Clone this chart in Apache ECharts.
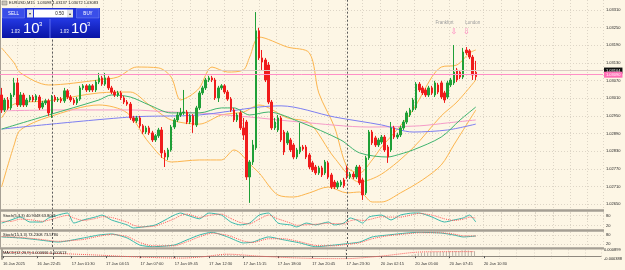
<!DOCTYPE html>
<html>
<head>
<meta charset="utf-8">
<script src="https://cdn.jsdelivr.net/npm/echarts@6/dist/echarts.min.js"></script>
<style>
html,body{margin:0;padding:0;background:#fdf6e5;}
#main{width:625px;height:270px;}
</style>
</head>
<body>
<div id="main"></div>
<script>
var slots = 192;//画面能放下的K线数
var timeTicks = ['16 Jan 2025','16 Jan 22:45','17 Jan 01:30','17 Jan 04:15','17 Jan 07:00','17 Jan 09:45','17 Jan 12:30',
    '17 Jan 15:15','17 Jan 18:00','17 Jan 20:45','17 Jan 23:30','20 Jan 02:15','20 Jan 05:00','20 Jan 07:45','20 Jan 10:30'];
var daySep = [16, 110];//日分隔线

// EURUSD M15 K线 (单位: 点, /100000)
var openP = [103021,102970,103004,102977,103021,103062,102987,103021,102987,103004,103014,103004,103014,102980,102994,103001,
    102960,103014,103004,103007,103001,103035,103014,103004,102994,103007,103045,103052,103038,103052,103038,103065,103079,
    103058,103079,103045,103031,103021,103028,103011,102997,102990,102943,102933,102943,102916,102895,102909,102892,102868,
    102882,102902,102824,102810,102834,102912,102936,102953,102960,102963,102929,102950,102919,102977,103028,103045,103072,
    103079,103072,103011,103045,103052,103031,103007,102970,102936,102960,102909,102929,102742,102793,102841,103239,103147,
    103140,103123,102997,102909,102902,102943,102895,102858,102868,102851,102810,102827,102844,102844,102817,102790,102776,
    102756,102773,102756,102790,102749,102725,102708,102715,102732,102773,102742,102752,102742,102776,102732,102688,102807,
    102895,102875,102851,102861,102878,102844,102834,102909,102878,102885,102909,102929,102953,102970,102977,103058,103045,
    103038,103021,103045,103021,103055,103062,103028,103014,103055,103062,103106,103099,103082,103174,103171,103150,103098];
var closeP = [102970,103004,102977,103021,103062,102987,103021,102987,103004,103014,103004,103018,102977,102994,103001,102960,
    103014,103004,103007,103001,103035,103014,103004,102994,103007,103045,103052,103038,103052,103038,103065,103079,103058,
    103079,103045,103031,103021,103028,103011,102997,102990,102943,102933,102943,102916,102895,102909,102892,102868,102882,
    102902,102824,102810,102834,102912,102936,102953,102960,102963,102929,102950,102919,102977,103028,103045,103072,103079,
    103072,103011,103045,103052,103031,103007,102970,102936,102953,102909,102885,102742,102793,102851,103239,103147,103133,
    103072,102997,102909,102929,102943,102868,102827,102892,102834,102810,102834,102844,102837,102810,102776,102766,102756,
    102773,102749,102793,102742,102708,102708,102722,102725,102712,102742,102752,102742,102776,102722,102681,102807,102895,
    102858,102851,102868,102878,102834,102810,102909,102878,102885,102909,102929,102960,102970,103004,103058,103038,103028,
    103021,103045,103028,103062,103031,103014,103004,103062,103072,103099,103072,103082,103167,103164,103150,103089,103083];
var lowP = [102960,102963,102970,102970,103014,102980,102980,102980,102980,102997,102997,102997,102970,102973,102987,102950,
    102943,102997,102997,102994,102994,103007,102997,102987,102987,103001,103038,103031,103031,103031,103031,103058,103052,
    103052,103038,103024,103014,103014,103004,102990,102984,102936,102926,102926,102909,102888,102888,102885,102861,102861,
    102875,102807,102776,102800,102828,102905,102929,102946,102953,102922,102922,102892,102912,102970,103021,103038,103065,
    103065,103004,102997,103038,103024,103001,102963,102929,102929,102902,102868,102732,102654,102783,102834,103140,103106,
    103065,102990,102902,102902,102895,102861,102817,102851,102827,102803,102803,102820,102831,102803,102769,102759,102749,
    102749,102742,102749,102735,102701,102701,102701,102708,102705,102735,102735,102735,102735,102715,102664,102681,102800,
    102851,102844,102844,102854,102827,102790,102827,102871,102871,102878,102902,102922,102946,102963,102970,103031,103021,
    103014,103014,103021,103014,103024,103007,102994,103007,103048,103055,103065,103075,103075,103157,103143,103072,103072];
var highP = [103045,103011,103014,103028,103079,103079,103031,103028,103011,103021,103021,103024,103021,103001,103007,103007,
    103021,103021,103014,103014,103045,103041,103021,103011,103014,103052,103058,103058,103058,103058,103072,103096,103086,
    103096,103086,103052,103038,103035,103035,103018,103004,102997,102950,102950,102950,102922,102916,102916,102899,102888,
    102909,102912,102834,102841,102919,102943,102963,102977,103038,102970,102956,102956,102984,103035,103052,103079,103086,
    103086,103079,103052,103058,103058,103038,103014,102977,102960,102967,102943,102936,102800,102868,103303,103249,103174,
    103147,103133,103004,102943,102953,102950,102902,102899,102875,102858,102841,102926,102851,102851,102824,102797,102783,
    102780,102780,102800,102797,102756,102732,102729,102732,102739,102780,102759,102759,102783,102783,102739,102814,102902,
    102902,102882,102875,102885,102885,102851,102929,102916,102892,102916,102936,102967,102977,103011,103065,103065,103052,
    103045,103052,103052,103069,103062,103069,103035,103069,103079,103191,103113,103106,103181,103184,103177,103157,103137];

// 指标线 (取样点: 序号 / 点数)
var bbUpIdx = [0,4,6,15,31,37,43,50,54,57,60,63,67,72,77,79,82,91,98,101,106,110,114,118,121,125,131,137,140,145,149,151];
var bbUp = [103181,103130,103096,103055,103072,103082,103116,103113,103082,103004,103018,103045,103116,103099,103106,103150,
    103218,103184,103164,103028,102912,102776,102756,102800,102844,102892,102970,103082,103116,103123,103164,103174];
var bbMidIdx = [0,4,15,31,41,47,54,63,70,77,82,91,98,106,114,121,131,140,145,151];
var bbMid = [102943,102990,103001,103028,103031,102987,102936,102922,102953,102963,102987,102943,102926,102807,102725,102752,
    102841,102950,102997,103072];
var bbLowIdx = [0,4,6,15,31,40,47,54,63,70,74,80,82,88,93,98,104,110,114,118,121,127,134,140,144,148,151];
var bbLow = [102708,102851,102902,102946,102987,102960,102858,102793,102800,102800,102834,102776,102756,102681,102674,102688,
    102708,102688,102691,102657,102657,102688,102732,102783,102851,102919,102970];
var maGreenIdx = [0,15,31,35,41,47,54,63,70,74,79,85,95,108,114,123,125,131,140,146,151];
var maGreen = [102905,102953,103004,103021,103014,102987,102960,102960,102977,102977,102953,102963,102929,102868,102824,102810,
    102814,102834,102878,102936,102980];
var maBlueIdx = [0,41,63,82,89,106,121,131,142,151];
var maBlue = [102905,102946,102953,102980,102984,102946,102919,102895,102902,102922];
var maPinkIdx = [0,19,41,54,63,79,95,117,133,142,151];
var maPink = [102967,102970,102970,102963,102960,102946,102929,102912,102916,102926,102936];

var bidLine = 1.03090;
var askLine = 1.03104;

// 随机指标
var st1Idx = [0,3,6,9,13,15,21,23,26,30,32,35,40,42,45,49,55,57,59,63,66,70,73,76,79,82,85,88,92,94,97,100,104,106,109,111,
    113,115,117,121,124,127,131,133,137,141,144,147,149,151];
var st1Main = [35,53,71,41,41,65,94,35,53,71,82,53,24,6,12,24,82,94,82,60,94,82,41,24,35,82,94,35,24,12,35,24,41,24,35,65,53,
    35,71,82,53,82,94,94,71,41,53,65,82,40.93];
var st1Sig = [45,45,58,55,45,52,80,65,50,62,72,68,40,22,12,18,60,80,88,68,80,88,62,38,30,58,82,60,35,22,25,28,33,32,30,48,55,
    50,55,72,70,70,85,92,82,60,50,58,70,63.8];
var st2Idx = [0,6,12,18,26,31,35,40,44,48,55,59,63,67,72,77,80,85,90,95,100,106,109,114,118,123,129,133,140,144,147,151];
var st2Main = [67,60,47,33,60,80,87,60,13,2,13,47,80,98,67,27,33,67,47,27,2,13,20,33,67,80,93,98,93,80,67,73.23];
var st2Sig = [70,64,52,38,50,72,84,70,30,8,8,35,68,92,78,40,30,55,55,35,10,8,15,28,55,75,88,95,95,86,74,73.58];

// MACD
var macdSigIdx = [0,15,31,44,57,63,72,82,95,109,121,132,140,151];
var macdSig = [0.00052,0.00039,0.00013,-0.00013,-0.00026,-0.00013,0.00026,0.0,-0.00026,-0.00035,0.0,0.00052,0.0006,0.00061];
var macdHistIdx = [68,69,70,71,72,73,74,75,76,77,78,130,131,132,133,134,135,136,137,138,139,140,141,142,143,144,145,146,147,
    148,149,150,151];
var macdHist = [0.0001,0.00015,0.0002,0.0002,0.00025,0.0002,0.0002,0.00015,0.00015,0.0001,0.00005,0.0001,0.0002,0.0003,0.0004,
    0.00045,0.0005,0.0005,0.00055,0.0006,0.0006,0.0006,0.00058,0.0006,0.00065,0.0007,0.0007,0.00068,0.0008,0.0008,0.00078,0.0007,
    0.00067];

var sessions = ['Frankfurt', 'London'];
var sessionTextIdx = [141, 150];
var sessionArrowIdx = [144, 148];

/**
 * 组装数据
 */
var cats = [];
for (var i = 0; i < slots; i++) {
    cats.push(i % 11 == 0 && i / 11 < timeTicks.length ? timeTicks[i / 11] : '');
}
var kdata = [];
for (i = 0; i < openP.length; i++) {
    kdata.push([openP[i] / 1e5, closeP[i] / 1e5, lowP[i] / 1e5, highP[i] / 1e5]);
}
function pairs(idx, val, k) {
    var r = [];
    for (var j = 0; j < idx.length; j++) r.push([idx[j], val[j] / k]);
    return r;
}
function line(data, color, xi, yi, dash, smooth) {
    return {
        type: 'line', data: data, xAxisIndex: xi, yAxisIndex: yi, symbol: 'none', silent: true,
        smooth: smooth, z: 2, lineStyle: {color: color, width: 1, type: dash || 'solid'}
    };
}
function sepLines() {
    var d = [];
    for (var j = 0; j < daySep.length; j++) {
        d.push({xAxis: daySep[j], lineStyle: {color: '#5a5a5a', width: 1, type: [2, 2]}, label: {show: false}});
    }
    return d;
}
var showTick = function (index, value) { return value !== ''; };
var gridC = '#ddd5c6';
var FONT = 'Liberation Sans';

var xAxes = [], grids = [
    {left: 0, right: 22, top: 0, height: 221.7},
    {left: 0, right: 22, top: 212, height: 17},
    {left: 0, right: 22, top: 232, height: 15},
    {left: 0, right: 22, top: 249.5, height: 9.5}
];
for (i = 0; i < 4; i++) {
    xAxes.push({
        type: 'category', gridIndex: i, data: cats, show: i == 3,
        axisLine: {show: true, lineStyle: {color: '#8f897f', width: 1}},
        axisTick: {show: true, interval: showTick, alignWithLabel: true, length: 2, lineStyle: {color: '#555'}},
        axisLabel: {show: true, interval: showTick, align: 'left', fontSize: 4, color: '#333', margin: 2.5, fontFamily: FONT},
        splitLine: {show: false}
    });
    xAxes.push({
        type: 'value', gridIndex: i, min: 0, max: slots, interval: 5.5,
        axisLine: {show: false}, axisTick: {show: false}, axisLabel: {show: false},
        splitLine: {show: true, lineStyle: {color: gridC, width: 1, type: [1, 2]}}
    });
}

var hc = [];
for (i = 0; i < 14; i++) hc.push(i == 0 || i == 13 ? 'rgba(0,0,0,0)' : gridC);
var stochSplit = ['rgba(0,0,0,0)', gridC, 'rgba(0,0,0,0)', 'rgba(0,0,0,0)', gridC, 'rgba(0,0,0,0)'];
var axisLn = {show: true, lineStyle: {color: '#a59f94', width: 2}};
var lab = {fontSize: 4, color: '#222', margin: 3, fontFamily: FONT};

function stochAxis(g) {
    return {
        type: 'value', gridIndex: g, position: 'right', min: 0, max: 100, interval: 20,
        axisLine: axisLn, axisTick: {show: false},
        axisLabel: Object.assign({}, lab, {formatter: function (v) { return (v == 20 || v == 80) ? String(v) : ''; }}),
        splitLine: {show: true, lineStyle: {color: stochSplit, type: [1, 2]}}
    };
}

var priceLabel = {show: true, position: 'end', distance: 1, fontSize: 4, color: '#fff', padding: [1, 2], fontFamily: FONT,
    formatter: function (p) { return Number(p.value).toFixed(5); }};

var mpData = [];
for (i = 0; i < sessions.length; i++) {
    mpData.push({coord: [sessionTextIdx[i], 1.03266], value: sessions[i],
        label: {show: true, position: 'inside', formatter: sessions[i], color: '#9c9c9c', fontSize: 4.5, fontFamily: FONT}});
    mpData.push({coord: [sessionArrowIdx[i], 1.03235], value: '⇩',
        label: {show: true, position: 'inside', formatter: '⇩', color: '#ff77bb', fontSize: 8, fontFamily: 'DejaVu Sans'}});
}

// 价格线挂在粉色均线上
var pinkSeries = line(pairs(maPinkIdx, maPink, 1e5), '#f59bc8', 0, 0, null, 0.3);
pinkSeries.markLine = {
    silent: true, symbol: ['none', 'none'], precision: 5,
    data: [
        {yAxis: askLine, lineStyle: {color: '#dccac4', width: 1, type: 'solid'},
            label: Object.assign({}, priceLabel, {backgroundColor: '#111'})},
        {yAxis: bidLine, lineStyle: {color: '#ff8fc6', width: 1, type: 'solid'},
            label: Object.assign({}, priceLabel, {backgroundColor: '#ff6fb5'})}
    ]
};

var myChart = echarts.init(document.getElementById('main'), null, {renderer: 'canvas'});
var option = {
    animation: false,
    backgroundColor: '#fdf6e5',
    grid: grids,
    xAxis: xAxes,
    yAxis: [
        {
            type: 'value', gridIndex: 0, position: 'right', min: 1.02590, max: 1.03344, interval: 0.0006,
            axisLine: axisLn, axisTick: {show: false},
            axisLabel: Object.assign({}, lab, {formatter: function (v) { return (v > 1.0264 && v < 1.0333) ? v.toFixed(5) : ''; }}),
            splitLine: {show: true, lineStyle: {color: hc, type: [1, 2]}}
        },
        stochAxis(1),
        stochAxis(2),
        {
            type: 'value', gridIndex: 3, position: 'right', min: -0.000388, max: 0.000899, interval: 0.001287,
            axisLine: axisLn, axisTick: {show: false},
            axisLabel: Object.assign({}, lab, {formatter: function (v) { return v.toFixed(6); }}),
            splitLine: {show: false}
        }
    ],
    series: [
        {
            type: 'candlestick', data: kdata, xAxisIndex: 0, yAxisIndex: 0, barWidth: 2, z: 3, silent: true,
            itemStyle: {color: '#1f9f37', color0: '#f01c1c', borderColor: '#1f9f37', borderColor0: '#f01c1c', borderWidth: 1},
            markLine: {silent: true, symbol: ['none', 'none'], data: sepLines()},
            markPoint: {silent: true, symbol: 'circle', symbolSize: 1, itemStyle: {color: 'rgba(0,0,0,0)'}, data: mpData}
        },
        line(pairs(bbUpIdx, bbUp, 1e5), '#fcb54e', 0, 0, null, 0.3),
        line(pairs(bbMidIdx, bbMid, 1e5), '#fcb54e', 0, 0, null, 0.3),
        line(pairs(bbLowIdx, bbLow, 1e5), '#fcb54e', 0, 0, null, 0.3),
        pinkSeries,
        line(pairs(maBlueIdx, maBlue, 1e5), '#7d7ff2', 0, 0, null, 0.3),
        line(pairs(maGreenIdx, maGreen, 1e5), '#3fb46f', 0, 0, null, 0.3),
        Object.assign(line(pairs(st1Idx, st1Main, 1), '#3ab8aa', 2, 1, null, 0.2),
            {markLine: {silent: true, symbol: ['none', 'none'], data: sepLines()}}),
        line(pairs(st1Idx, st1Sig, 1), '#ff5a5a', 2, 1, [1, 1], 0.2),
        Object.assign(line(pairs(st2Idx, st2Main, 1), '#3ab8aa', 4, 2, null, 0.2),
            {markLine: {silent: true, symbol: ['none', 'none'], data: sepLines()}}),
        line(pairs(st2Idx, st2Sig, 1), '#ff5a5a', 4, 2, [1, 1], 0.2),
        {
            type: 'bar', data: pairs(macdHistIdx, macdHist, 1), xAxisIndex: 6, yAxisIndex: 3, barWidth: 1, silent: true,
            itemStyle: {color: '#b9b2a6'}
        },
        Object.assign(line(pairs(macdSigIdx, macdSig, 1), '#ff5a5a', 6, 3, [1, 1], 0.3), {
            markLine: {silent: true, symbol: ['none', 'none'], data: sepLines().concat([
                {yAxis: 0, lineStyle: {opacity: 0}, label: {show: true, position: 'end', distance: 3, formatter: '0.00',
                    fontSize: 4, color: '#222', fontFamily: FONT}}
            ])}
        })
    ],
    graphic: [
        // 分隔条
        {type: 'rect', z: 50, shape: {x: 0, y: 209.3, width: 604, height: 2.4}, style: {fill: '#a59f94'}},
        {type: 'rect', z: 50, shape: {x: 0, y: 229.3, width: 604, height: 2.4}, style: {fill: '#a59f94'}},
        {type: 'rect', z: 50, shape: {x: 0, y: 247.2, width: 604, height: 2.2}, style: {fill: '#a59f94'}},
        // 标题
        {type: 'rect', z: 50, shape: {x: 2, y: 1, width: 5, height: 4}, style: {fill: '#c9c3b8', stroke: '#777', lineWidth: 0.5}},
        {type: 'text', z: 50, x: 9, y: 3.2, style: {text: 'EURUSD,M15  1.03098 1.03137 1.03072 1.03083', font: '4px ' + FONT,
            fill: '#222', textVerticalAlign: 'middle'}},
        {type: 'text', z: 50, x: 3, y: 215.5, style: {text: 'Stoch(5,3,3) 40.9348 63.8021', font: '4px ' + FONT,
            fill: '#222', textVerticalAlign: 'middle'}},
        {type: 'text', z: 50, x: 3, y: 235, style: {text: 'Stoch(15,3,3) 73.2308 73.5780', font: '4px ' + FONT,
            fill: '#222', textVerticalAlign: 'middle'}},
        {type: 'text', z: 50, x: 3, y: 252.5, style: {text: 'MACD(12,26,9) 0.000666 0.000613', font: '4px ' + FONT,
            fill: '#222', textVerticalAlign: 'middle'}},
        // 一键交易面板
        {type: 'rect', z: 60, shape: {x: 2, y: 8, width: 98, height: 11}, style: {fill: '#1f33d8'}},
        {type: 'rect', z: 60, shape: {x: 2, y: 19, width: 98, height: 19},
            style: {fill: new echarts.graphic.LinearGradient(0, 0, 0, 1, [{offset: 0, color: '#2338e2'}, {offset: 1, color: '#0a14a4'}])}},
        {type: 'line', z: 61, shape: {x1: 50, y1: 19, x2: 50, y2: 38}, style: {stroke: '#5c6cf0', lineWidth: 1}},
        {type: 'rect', z: 61, shape: {x: 2.5, y: 8.5, width: 22, height: 9.5}, style: {fill: '#3a4ee9', stroke: '#7d8cf5', lineWidth: 0.5}},
        {type: 'text', z: 62, x: 13.5, y: 13.3, style: {text: 'SELL', font: '4.5px ' + FONT, fill: '#fff', textAlign: 'center', textVerticalAlign: 'middle'}},
        {type: 'rect', z: 61, shape: {x: 27, y: 9.5, width: 6, height: 8}, style: {fill: '#e6e6e6'}},
        {type: 'text', z: 62, x: 30, y: 13.5, style: {text: '▾', font: '4px ' + FONT, fill: '#333', textAlign: 'center', textVerticalAlign: 'middle'}},
        {type: 'rect', z: 61, shape: {x: 34, y: 9.5, width: 33, height: 8}, style: {fill: '#ffffff'}},
        {type: 'text', z: 62, x: 64, y: 13.5, style: {text: '0.50', font: '4.5px ' + FONT, fill: '#222', textAlign: 'right', textVerticalAlign: 'middle'}},
        {type: 'rect', z: 61, shape: {x: 67, y: 9.5, width: 6, height: 8}, style: {fill: '#e6e6e6'}},
        {type: 'text', z: 62, x: 70, y: 13.5, style: {text: '▴', font: '4px ' + FONT, fill: '#333', textAlign: 'center', textVerticalAlign: 'middle'}},
        {type: 'rect', z: 61, shape: {x: 76.5, y: 8.5, width: 22.5, height: 9.5}, style: {fill: '#3a4ee9', stroke: '#7d8cf5', lineWidth: 0.5}},
        {type: 'text', z: 62, x: 88, y: 13.3, style: {text: 'BUY', font: '4.5px ' + FONT, fill: '#fff', textAlign: 'center', textVerticalAlign: 'middle'}},
        {type: 'text', z: 62, x: 11, y: 32, style: {text: '1.03', font: '4.5px ' + FONT, fill: '#fff', textVerticalAlign: 'middle'}},
        {type: 'text', z: 62, x: 23, y: 28.5, style: {text: '10', font: '15px ' + FONT, fill: '#fff', textVerticalAlign: 'middle'}},
        {type: 'text', z: 62, x: 39, y: 24, style: {text: '3', font: '6px ' + FONT, fill: '#fff', textVerticalAlign: 'middle'}},
        {type: 'text', z: 62, x: 60, y: 32, style: {text: '1.03', font: '4.5px ' + FONT, fill: '#fff', textVerticalAlign: 'middle'}},
        {type: 'text', z: 62, x: 71, y: 28.5, style: {text: '10', font: '15px ' + FONT, fill: '#fff', textVerticalAlign: 'middle'}},
        {type: 'text', z: 62, x: 87, y: 24, style: {text: '3', font: '6px ' + FONT, fill: '#fff', textVerticalAlign: 'middle'}}
    ]
};
myChart.setOption(option);
</script>
</body>
</html>
